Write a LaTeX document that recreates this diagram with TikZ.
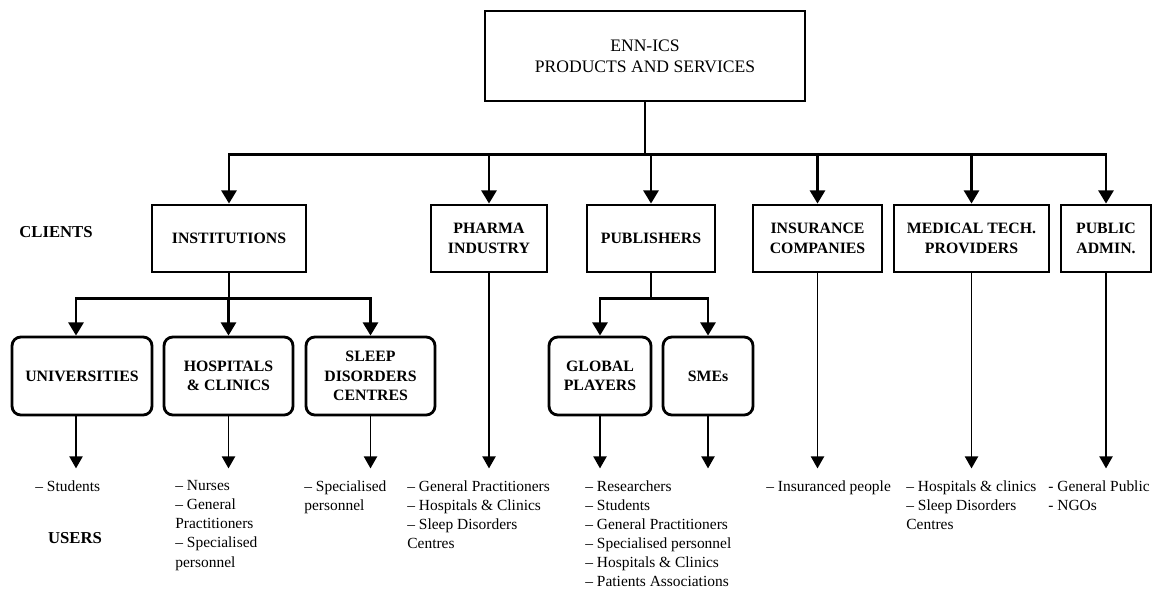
\documentclass[tikz,border=0pt]{standalone}
\usepackage{fontspec}
\setmainfont{Liberation Serif}
\usetikzlibrary{arrows.meta}

\begin{document}
\begin{tikzpicture}[x=0.02cm,y=-0.02cm,
    box/.style={draw,line width=1.6pt,align=center,inner sep=0pt,minimum height=1.34cm,
        font=\bfseries\fontsize{9}{11}\selectfont},
    subbox/.style={box,rounded corners=5pt,minimum height=1.56cm},
    users/.style={anchor=north west,align=left,inner sep=0pt,font=\fontsize{8.8}{10.9}\selectfont},
    side/.style={font=\bfseries\fontsize{9.5}{11}\selectfont},
    link/.style={line width=1.6pt,-{Triangle[width=8.5pt,length=7.5pt]}},
    feed/.style={line width=0.8pt,-{Triangle[width=7.5pt,length=6.8pt]}}]
    \useasboundingbox (0,0) rectangle (1155,591);

    % top
    \node[draw,line width=1.6pt,align=center,minimum width=6.4cm,minimum height=1.8cm,
        font=\fontsize{10}{12}\selectfont] (enn) at (645,56) {ENN-ICS\\PRODUCTS AND SERVICES};

    % clients
    \node[box,minimum width=3.08cm] (inst) at (229,238.5) {INSTITUTIONS};
    \node[box,minimum width=2.32cm] (pharma) at (489,238.5) {PHARMA\\INDUSTRY};
    \node[box,minimum width=2.56cm] (publ) at (651,238.5) {PUBLISHERS};
    \node[box,minimum width=2.58cm] (insur) at (817.5,238.5) {INSURANCE\\COMPANIES};
    \node[box,minimum width=3.10cm] (medtech) at (971.5,238.5) {MEDICAL TECH.\\PROVIDERS};
    \node[box,minimum width=1.80cm] (padmin) at (1106,238.5) {PUBLIC\\ADMIN.};

    \node[subbox,minimum width=2.80cm] (univ) at (82,376) {UNIVERSITIES};
    \node[subbox,minimum width=2.58cm] (hosp) at (228.5,376) {HOSPITALS\\\& CLINICS};
    \node[subbox,minimum width=2.58cm] (sleep) at (370.5,376) {SLEEP\\DISORDERS\\CENTRES};
    \node[subbox,minimum width=2.04cm] (global) at (600,376) {GLOBAL\\PLAYERS};
    \node[subbox,minimum width=1.80cm] (smes) at (708,376) {SMEs};

    \node[side] (clients) at (56,232) {CLIENTS};
    \node[side] (userslbl) at (75,538) {USERS};

    \draw[line width=1.6pt] (enn.south) -- ++(0,52) coordinate (bus);
    \foreach \n in {inst,pharma,publ,insur,medtech,padmin}
        \draw[link] (bus) -| (\n.north);

    \draw[line width=1.6pt] (inst.south) -- ++(0,25) coordinate (ibus);
    \draw[link] (ibus) -| ([xshift=-0.12cm]univ.north);
    \foreach \n in {hosp,sleep}
        \draw[link] (ibus) -| (\n.north);
    \draw[line width=1.6pt] (publ.south) -- ++(0,25) coordinate (pbus);
    \foreach \n in {global,smes}
        \draw[link] (pbus) -| (\n.north);

    % users
    \draw[feed] ([xshift=-0.12cm]univ.south) -- ++(0,52);
    \foreach \n in {hosp,sleep,global,smes}
        \draw[feed] (\n.south) -- ++(0,52);
    \foreach \n in {pharma,insur,medtech,padmin}
        \draw[feed] (\n.south) -- ++(0,195);

    \node[users] (ulist) at (35,480) {\textendash\ Students};
    \node[users] (hlist) at (175,480) {\textendash\ Nurses\\\textendash\ General\\Practitioners\\\textendash\ Specialised\\personnel};
    \node[users] (slist) at (304,480) {\textendash\ Specialised\\personnel};
    \node[users] (phlist) at (407,480) {\textendash\ General Practitioners\\\textendash\ Hospitals \& Clinics\\\textendash\ Sleep Disorders\\Centres};
    \node[users] (glist) at (585,480) {\textendash\ Researchers\\\textendash\ Students\\\textendash\ General Practitioners\\\textendash\ Specialised personnel\\\textendash\ Hospitals \& Clinics\\\textendash\ Patients Associations};
    \node[users] (ilist) at (766,480) {\textendash\ Insuranced people};
    \node[users] (mlist) at (906,480) {\textendash\ Hospitals \& clinics\\\textendash\ Sleep Disorders\\Centres};
    \node[users] (plist) at (1048,480) {- General Public\\- NGOs};
\end{tikzpicture}
\end{document}
